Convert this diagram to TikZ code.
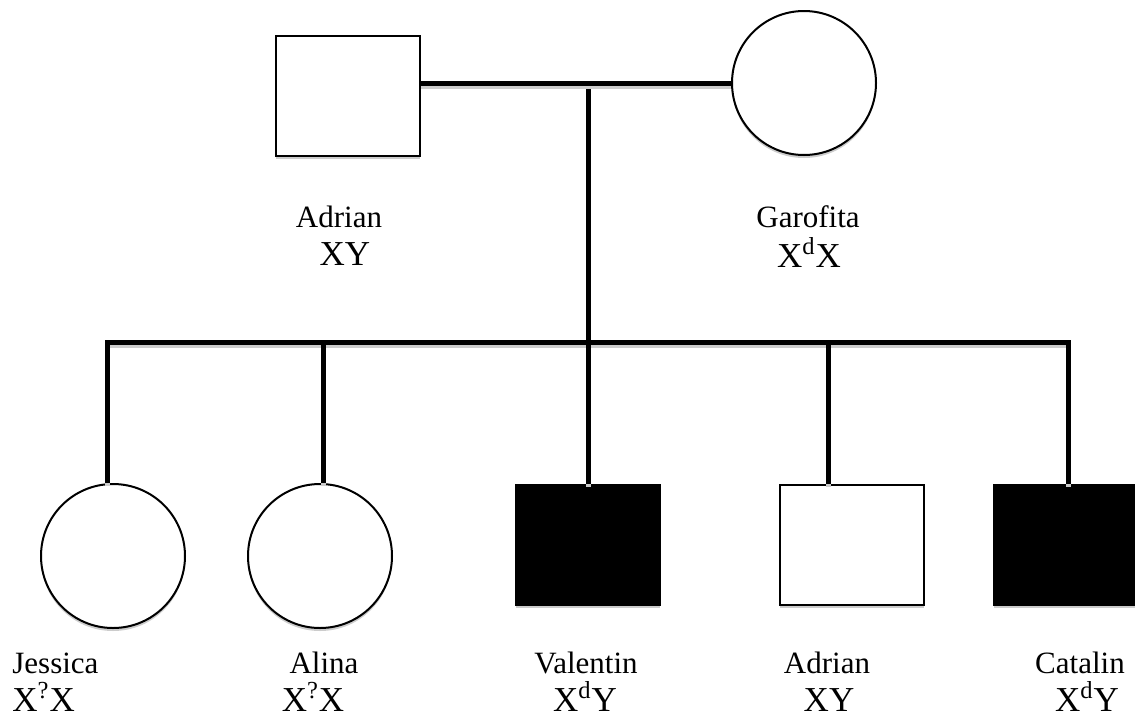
\documentclass[tikz,border=0pt]{standalone}
\usepackage{fontspec}
\setmainfont{Liberation Serif}
\usetikzlibrary{shadows}

\begin{document}
\begin{tikzpicture}[x=0.5pt,y=-0.5pt,
    male/.style={draw,line width=1pt,fill=white,minimum width=72pt,minimum height=60pt,inner sep=0pt,
      drop shadow={shadow xshift=0pt,shadow yshift=-1.5pt,fill=black!20,opacity=1}},
    female/.style={circle,draw,line width=1pt,fill=white,minimum size=72pt,inner sep=0pt,
      drop shadow={shadow xshift=0pt,shadow yshift=-1.5pt,fill=black!20,opacity=1}},
    affected/.style={fill=black},
    link/.style={line width=2.5pt,preaction={draw=black!20,line width=2.5pt,transform canvas={yshift=-1.5pt}}},
    pname/.style={font=\fontsize{15.5}{18}\selectfont,anchor=base,inner sep=0pt},
    geno/.style={font=\fontsize{17.5}{20}\selectfont,anchor=base,inner sep=0pt}]
    \useasboundingbox (0,0) rectangle (1135,718);

    \coordinate (mar) at (588,83);
    \coordinate (sib) at (588,342);
    \coordinate (sibL) at (107,342);
    \coordinate (sibR) at (1068,342);
    \coordinate (d2) at (323,342);
    \coordinate (d4) at (828,342);

    \draw[link] (mar) -- (sib);

    \node[male] (fa) at (348,96) {};
    \node[female] (mo) at (804,83) {};
    \node[female] (c1) at (113,556) {};
    \node[female] (c2) at (320,556) {};
    \node[male,affected] (c3) at (588,545) {};
    \node[male] (c4) at (852,545) {};
    \node[male,affected] (c5) at (1066,545) {};

    \draw[link] (fa.east |- mar) -- (mo.west);
    \draw[link] (sibL |- c1.north) -- (sibL) -- (sibR) -- (sibR |- c5.north);
    \draw[link] (d2) -- (d2 |- c2.north);
    \draw[link] (sib) -- (c3.north);
    \draw[link] (d4) -- (d4 |- c4.north);

    \node[pname] (faN) at (339,227) {Adrian};
    \node[geno] (faG) at (345,265) {XY};
    \node[pname] (moN) at (808,227) {Garofita};
    \node[geno] (moG) at (809,267) {X\textsuperscript{d}X};

    \node[pname,anchor=base west] (c1N) at (12,673) {Jessica};
    \node[geno,anchor=base west] (c1G) at (12,711) {X\textsuperscript{?}X};
    \node[pname] (c2N) at (324,673) {Alina};
    \node[geno] (c2G) at (313,711) {X\textsuperscript{?}X};
    \node[pname] (c3N) at (586,673) {Valentin};
    \node[geno] (c3G) at (585,711) {X\textsuperscript{d}Y};
    \node[pname] (c4N) at (827,673) {Adrian};
    \node[geno] (c4G) at (829,711) {XY};
    \node[pname] (c5N) at (1080,673) {Catalin};
    \node[geno] (c5G) at (1087,711) {X\textsuperscript{d}Y};
  \end{tikzpicture}
\end{document}
